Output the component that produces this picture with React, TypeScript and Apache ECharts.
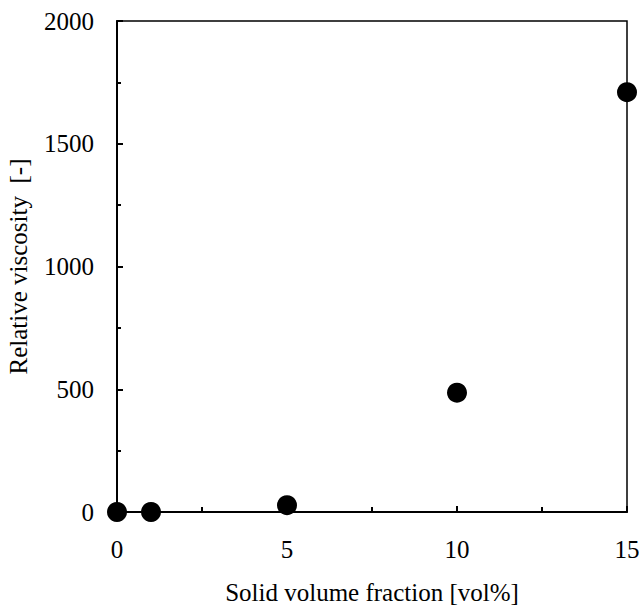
import React, { useEffect, useRef } from "react";
import * as echarts from "echarts";

const xValues = [0, 1, 5, 10, 15];
const yValues = [0, 0, 28, 486, 1710];
const xTitle = "Solid volume fraction [vol%]";
const yTitle = "Relative viscosity  [-]";

export default function App() {
  const ref = useRef<HTMLDivElement>(null);
  useEffect(() => {
    if (!ref.current) return;
    const chart = echarts.init(ref.current, undefined, { renderer: "svg" });
    const font = "'Liberation Serif', 'Times New Roman', serif";
    chart.setOption({
      animation: false,
      backgroundColor: "#fff",
      grid: {
        left: 117,
        top: 21,
        width: 510,
        height: 491,
        show: true,
        borderColor: "#000",
        borderWidth: 1.5,
        containLabel: false,
        outerBoundsMode: "none",
      },
      xAxis: {
        type: "value",
        min: 0,
        max: 15,
        interval: 5,
        name: xTitle,
        nameLocation: "middle",
        nameGap: 68,
        nameTextStyle: { fontFamily: font, fontSize: 25, color: "#000" },
        axisLine: { show: true, lineStyle: { color: "#000", width: 2 } },
        axisTick: { show: true, inside: true, length: 6, lineStyle: { color: "#000", width: 2 } },
        minorTick: { show: true, splitNumber: 2, length: 5, lineStyle: { color: "#000", width: 2 } },
        splitLine: { show: false },
        axisLabel: { margin: 25, fontFamily: font, fontSize: 25, color: "#000", formatter: (v: number) => String(v) },
      },
      yAxis: {
        type: "value",
        min: 0,
        max: 2000,
        interval: 500,
        name: yTitle,
        nameLocation: "middle",
        nameGap: 86,
        nameTextStyle: { fontFamily: font, fontSize: 25, color: "#000" },
        axisLine: { show: true, lineStyle: { color: "#000", width: 2 } },
        axisTick: { show: true, inside: true, length: 6, lineStyle: { color: "#000", width: 2 } },
        minorTick: { show: true, splitNumber: 2, length: 4, lineStyle: { color: "#000", width: 2 } },
        splitLine: { show: false },
        axisLabel: { margin: 23, fontFamily: font, fontSize: 25, color: "#000", formatter: (v: number) => String(v) },
      },
      series: [
        {
          type: "scatter",
          data: xValues.map((x, i) => [x, yValues[i]]),
          symbol: "circle",
          symbolSize: 20,
          clip: false,
          itemStyle: { color: "#000", opacity: 1 },
        },
      ],
    });
    return () => chart.dispose();
  }, []);
  return (
    <div
      ref={ref}
      style={{ position: "fixed", left: 0, top: 0, width: 639, height: 605 }}
    />
  );
}
